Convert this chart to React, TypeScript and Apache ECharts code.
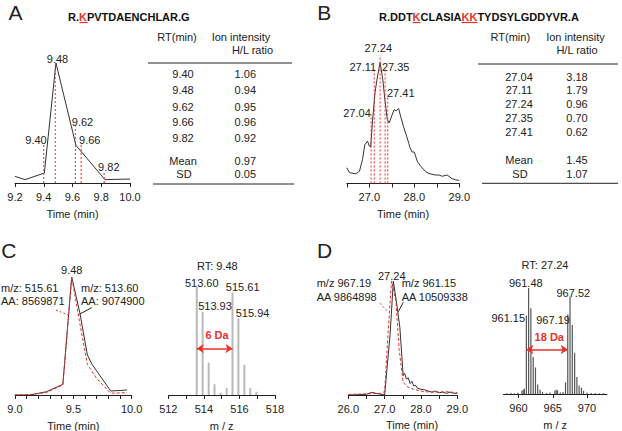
import React, { useEffect, useRef } from 'react';
import * as echarts from 'echarts';

const FONT = '"Liberation Sans", Arial, Helvetica, sans-serif';
const INK = '#222';
const RED = '#e8312b';

// ---------- Panel A ----------
const titleA = 'R.{k|K}PVTDAENCHLAR.G';
const timeA = [9.2, 9.27, 9.404, 9.485, 9.624, 9.826, 10.0];
const intA = [5.5, 2.8, 8.3, 100, 31.4, 2.8, 3.3];
const rtA = [9.40, 9.48, 9.62, 9.66, 9.82];
const rtTopA = [32, 100, 47, 32, 9.5];
const ratioA = [1.06, 0.94, 0.95, 0.96, 0.92];
const meanA = 0.97;
const sdA = 0.05;

// ---------- Panel B ----------
const titleB = 'R.DDT{k|K}CLASIA{k|KK}TYDSYLGDDYVR.A';
const timeB = [26.5, 26.56, 26.70, 26.78, 26.85, 26.90, 26.96, 27.00, 27.03, 27.07, 27.13, 27.18, 27.24, 27.30, 27.35, 27.40, 27.44, 27.50, 27.55, 27.60, 27.65, 27.70, 27.76, 27.83, 27.88, 27.90, 27.95, 28.00, 28.07, 28.17, 28.28, 28.35, 28.47, 28.55, 28.62, 28.73, 28.84, 28.92, 29.00];
const intB = [13, 9, 8, 10, 20, 32, 35, 31, 30, 51, 76, 88, 100, 86, 68, 53, 50, 56, 61, 60, 62, 55, 47, 39, 33, 30, 26, 26, 18, 13, 9, 8, 7, 7, 6, 7, 4, 3, 2.5];
const rtB = [27.04, 27.11, 27.24, 27.35, 27.41];
const rtTopB = [57, 95.5, 106, 95.5, 73];
const ratioB = [3.18, 1.79, 0.96, 0.70, 0.62];
const meanB = 1.45;
const sdB = 1.07;

// ---------- Panel C ----------
const timeCl = [9.0, 9.13, 9.27, 9.41, 9.486, 9.557, 9.62, 9.66, 9.82, 9.96];
const lightC = [0, 0, 2.8, 9, 100, 69, 34, 26, 3.4, 4.2];
const timeCh = [9.0, 9.13, 9.27, 9.41, 9.486, 9.557, 9.62, 9.70, 9.82, 9.96];
const heavyC = [0, 0.5, 2, 8.5, 100, 60, 26, 14, 1.5, 2];
const peakRtC = 9.48;
const mzC = [513.60, 513.93, 514.27, 514.60, 514.94, 515.28, 515.61, 515.94, 516.28, 516.61, 516.95];
const abC = [100, 77, 30, 10, 2, 6.5, 95, 71, 28, 6.5, 3];
const labeledC = [0, 1, 6, 7];
const arrowC = 43;
const daC = '6 Da';

// ---------- Panel D ----------
const timeDl = [26.0, 26.5, 26.64, 26.78, 27.0, 27.15, 27.24, 27.35, 27.42, 27.51, 27.55, 27.6, 27.65, 27.7, 27.75, 27.8, 27.85, 27.9, 28.0, 28.1, 28.2, 28.3, 28.4, 28.5, 28.6, 28.7, 28.8, 28.9, 29.0];
const lightD = [0, 0.6, 2.3, 1.4, 0, 53, 100, 76, 59, 17, 19, 14, 15, 10, 12, 8, 8.5, 6, 5, 4.5, 3.5, 2.5, 3.5, 2, 2.5, 1.5, 2.5, 1.5, 1.5];
const timeDh = [26.0, 26.5, 26.9, 27.0, 27.1, 27.19, 27.31, 27.4, 27.51, 27.6, 27.7, 27.8, 28.06, 28.3, 28.5, 28.7, 29.0];
const heavyD = [0.5, 1, 1.5, 3, 57, 100, 82, 40, 11, 8, 6, 5, 3, 2.5, 2.5, 3, 2];
const peakRtD = 27.24;
const mzD = [958.3, 958.9, 959.4, 959.9, 960.5, 960.7, 960.85, 961.15, 961.48, 961.81, 962.15, 962.48, 962.81, 963.15, 963.5, 964.1, 964.6, 965.3, 965.5, 965.7, 966.1, 966.5, 966.86, 967.19, 967.52, 967.85, 968.19, 968.52, 968.85, 969.19, 969.5, 970.0, 970.6, 971.2, 971.8, 972.4];
const abD = [0.8, 1, 0.8, 1.2, 3, 4, 5, 74, 100, 81, 35, 25, 9, 4, 2, 1, 1.5, 3, 4, 3.5, 1.5, 2, 11, 75, 92, 65, 39, 16, 8, 6, 3, 1.5, 1, 1, 0.8, 0.8];
const labeledD = [8, 24, 7, 23];
const arrowD = 42;
const daD = '18 Da';

const f = (px: number, bold = false) => `${bold ? 'bold ' : ''}${px}px ${FONT}`;

function txt(x: number, y: number, text: string, opts: any = {}) {
  const align = opts.align || 'center';
  return {
    type: 'text',
    x, y,
    silent: true,
    style: {
      text,
      fill: opts.fill || INK,
      font: opts.font || f(11),
      align, textAlign: align,
      verticalAlign: 'middle', textVerticalAlign: 'middle',
      rich: opts.rich,
    },
  };
}
function hline(x1: number, x2: number, y: number, color = INK, w = 1) {
  return { type: 'line', silent: true, shape: { x1, y1: y, x2, y2: y }, style: { stroke: color, lineWidth: w } };
}
function seg(x1: number, y1: number, x2: number, y2: number, color: string, dash?: number[]) {
  return { type: 'line', silent: true, shape: { x1, y1, x2, y2 }, style: { stroke: color, lineWidth: 1, lineDash: dash } };
}

function xAx(gi: number, min: number, max: number, interval: number | undefined, fmt: (v: number) => string, name: string, extra: any = {}) {
  return {
    type: 'value', gridIndex: gi, min, max, interval,
    axisLine: { show: true, onZero: false, lineStyle: { color: INK, width: 1 } },
    axisTick: { show: true, length: 4, inside: false, lineStyle: { color: INK, width: 1 }, ...(extra.tick || {}) },
    axisLabel: { color: INK, fontSize: 11, fontFamily: FONT, margin: 8, formatter: fmt, showMinLabel: true, showMaxLabel: true, ...(extra.label || {}) },
    splitLine: { show: false },
    axisPointer: { show: false },
    name, nameLocation: 'middle', nameGap: 25,
    nameTextStyle: { color: INK, fontSize: 11, fontFamily: FONT },
  };
}
function yAx(gi: number, max: number) {
  return { type: 'value', gridIndex: gi, min: 0, max, show: false };
}
function labels(gi: number, pts: number[][], texts: string[], offsets: number[][], opts: any = {}) {
  return {
    type: 'scatter', xAxisIndex: gi, yAxisIndex: gi, symbolSize: 1, silent: true, z: 6,
    itemStyle: { color: 'rgba(0,0,0,0)' },
    label: {
      show: true, position: 'inside', color: opts.color || INK, fontSize: 11, fontFamily: FONT,
      fontWeight: opts.bold ? 'bold' : 'normal', textBorderWidth: 0, textBorderColor: 'transparent', opacity: 1,
    },
    data: pts.map((p, i) => ({ value: p, label: { formatter: texts[i], offset: offsets[i] } })),
  };
}
// red dotted retention-time markers, drawn as broken line segments on the data scale
function rtSeries(gi: number, rts: number[], tops: number[]) {
  const data: any[] = [];
  rts.forEach((rt, i) => {
    data.push([rt, 0], [rt, tops[i]], [rt, '-']);
  });
  return {
    type: 'line', xAxisIndex: gi, yAxisIndex: gi, symbol: 'none', silent: true, z: 5,
    connectNulls: false, clip: false,
    color: '#ff2a2a',
    lineStyle: { color: '#ff2a2a', type: [2, 2], width: 1, opacity: 1 },
    data,
  };
}
function arrowLine(x1: number, x2: number, y: number) {
  return {
    silent: true, symbol: ['arrow', 'arrow'], symbolSize: 7, label: { show: false },
    lineStyle: { color: RED, type: 'solid', width: 1.5 },
    itemStyle: { color: RED },
    emphasis: { disabled: true },
    data: [[{ coord: [x1, y] }, { coord: [x2, y] }]],
  };
}

const isMult = (v: number, m: number) => Math.abs(v / m - Math.round(v / m)) < 1e-6;

function table(rts: number[], ratios: number[], mean: number, sd: number, L: any) {
  const els: any[] = [];
  els.push(txt(L.c1h, 36.5, 'RT(min)'));
  els.push(txt(L.c2h, 36.5, 'Ion intensity'));
  els.push(txt(L.c3h, 50, 'H/L ratio'));
  els.push(hline(L.top[0], L.top[1], L.topY));
  rts.forEach((rt, i) => {
    els.push(txt(L.c1, L.rows[i], rt.toFixed(2)));
    els.push(txt(L.c2, L.rows[i], ratios[i].toFixed(2)));
  });
  els.push(txt(L.c1, L.meanY, 'Mean'));
  els.push(txt(L.c2, L.meanY, mean.toFixed(2)));
  els.push(txt(L.c1 + 1, L.sdY, 'SD'));
  els.push(txt(L.c2, L.sdY, sd.toFixed(2)));
  els.push(hline(L.bot[0], L.bot[1], L.botY));
  return els;
}

export default function App() {
  const ref = useRef<HTMLDivElement>(null);
  useEffect(() => {
    if (!ref.current) return;
    const chart = echarts.init(ref.current, null, { renderer: 'svg' });
    const titleRich = { k: { fill: RED, color: RED, fontWeight: 'bold', fontSize: 11, fontFamily: FONT } };
    const peakIdxC = lightC.indexOf(100);
    const peakIdxD = lightD.indexOf(100);

    const graphicEls: any[] = [
      txt(15.5, 12.5, 'A', { font: f(21) }),
      txt(324.2, 12.5, 'B', { font: f(21) }),
      txt(8.8, 250.5, 'C', { font: f(21) }),
      txt(324.7, 250.5, 'D', { font: f(21) }),
      txt(68, 16.5, titleA, { align: 'left', font: f(11, true), rich: titleRich, fill: '#111' }),
      hline(79.5, 87.5, 22.5, RED, 1.2),
      txt(379, 16.5, titleB, { align: 'left', font: f(11, true), rich: titleRich, fill: '#111' }),
      hline(412.6, 420.5, 22.5, RED, 1.2),
      hline(461.5, 477.4, 22.5, RED, 1.2),
      ...table(rtA, ratioA, meanA, sdA, {
        c1h: 177, c2h: 241, c3h: 252.5, c1: 183, c2: 245.3,
        top: [148, 292], topY: 63, rows: [74, 90, 106.5, 122.3, 138.3], meanY: 161, sdY: 174, bot: [153, 294], botY: 184,
      }),
      ...table(rtB, ratioB, meanB, sdB, {
        c1h: 510.3, c2h: 575.5, c3h: 577, c1: 519, c2: 577,
        top: [478, 618], topY: 64, rows: [76.7, 90, 104, 118.3, 131.7], meanY: 160, sdY: 174, bot: [482, 618], botY: 183.3,
      }),
      txt(1, 288.3, 'm/z: 515.61', { align: 'left' }),
      txt(1, 301, 'AA: 8569871', { align: 'left' }),
      txt(81, 288.3, 'm/z: 513.60', { align: 'left' }),
      txt(81, 301, 'AA: 9074900', { align: 'left' }),
      seg(56, 310, 68.3, 315, RED, [2, 2]),
      seg(91.7, 307.7, 79.3, 314.3, INK),
      txt(316.7, 283.3, 'm/z 967.19', { align: 'left' }),
      txt(316.7, 296.7, 'AA 9864898', { align: 'left' }),
      txt(401.7, 283.3, 'm/z 961.15', { align: 'left' }),
      txt(401.7, 296.7, 'AA 10509338', { align: 'left' }),
      seg(380, 303.3, 387.7, 311.7, RED, [2, 2]),
      seg(403.3, 302.3, 398.3, 311.7, INK),
      txt(217.3, 265.7, 'RT: ' + peakRtC.toFixed(2)),
      txt(545, 265, 'RT: ' + peakRtD.toFixed(2)),
      txt(412, 425, 'Time (min)'),
    ];

    const option: any = {
      animation: false,
      backgroundColor: '#ffffff',
      textStyle: { fontFamily: FONT },
      grid: [
        { left: 15, top: 63, width: 115, height: 120 },
        { left: 346.8, top: 50.4, width: 112.5, height: 133.1 },
        { left: 15, top: 277, width: 116.7, height: 118 },
        { left: 168.3, top: 287, width: 106.7, height: 108 },
        { left: 348.3, top: 281, width: 109, height: 114 },
        { left: 503.4, top: 288, width: 103.5, height: 106 },
      ].map((g) => ({ ...g, containLabel: false, outerBoundsMode: 'none' })),
      xAxis: [
        xAx(0, 9.2, 10.0, 0.2, (v) => v.toFixed(1), 'Time (min)'),
        xAx(1, 26.5, 29.0, 0.5, (v) => (isMult(v, 1) ? v.toFixed(1) : ''), 'Time (min)'),
        xAx(2, 9.0, 10.0, 0.1, (v) => (isMult(v, 0.5) ? v.toFixed(1) : ''), 'Time (min)'),
        xAx(3, 512, 518, 1, (v) => (isMult(v, 2) ? String(Math.round(v)) : ''), 'm / z'),
        xAx(4, 26.0, 29.0, 0.5, (v) => (isMult(v, 1) ? v.toFixed(1) : ''), ''),
        xAx(5, 957.8, 972.9, undefined, (v) => String(Math.round(v)), 'm / z', {
          label: { customValues: [960, 965, 970] },
          tick: { customValues: [960, 965, 970] },
        }),
      ],
      yAxis: [yAx(0, 100), yAx(1, 110), yAx(2, 100), yAx(3, 100), yAx(4, 100), yAx(5, 100)],
      series: [
        // A
        rtSeries(0, rtA, rtTopA),
        {
          type: 'line', xAxisIndex: 0, yAxisIndex: 0, symbol: 'none', silent: true, z: 3,
          lineStyle: { color: '#333', width: 1 },
          data: timeA.map((t, i) => [t, intA[i]]),
        },
        labels(0, rtA.map((rt, i) => [rt, rtTopA[i]]), rtA.map((r) => r.toFixed(2)),
          [[-7.75, -4.6], [2.25, -4.5], [7.1, -4.9], [8.6, -4.6], [4.7, -4.9]]),
        // B
        rtSeries(1, rtB, rtTopB),
        {
          type: 'line', xAxisIndex: 1, yAxisIndex: 1, symbol: 'none', silent: true, z: 3,
          lineStyle: { color: '#333', width: 1 },
          data: timeB.map((t, i) => [t, intB[i]]),
        },
        labels(1, rtB.map((rt, i) => [rt, rtTopB[i]]), rtB.map((r) => r.toFixed(2)),
          [[-14.1, -1.8], [-11.5, -1.2], [-1.8, -6.9], [10.6, -1.2], [13, -2.5]]),
        // C chromatogram
        {
          type: 'line', xAxisIndex: 2, yAxisIndex: 2, symbol: 'none', silent: true, z: 3,
          lineStyle: { color: '#333', width: 1 },
          data: timeCl.map((t, i) => [t, lightC[i]]),
        },
        {
          type: 'line', xAxisIndex: 2, yAxisIndex: 2, symbol: 'none', silent: true, z: 4,
          lineStyle: { color: RED, width: 1, type: [3, 2] },
          data: timeCh.map((t, i) => [t, heavyC[i]]),
        },
        labels(2, [[timeCl[peakIdxC], lightC[peakIdxC]]], [peakRtC.toFixed(2)], [[0, -7]]),
        // C MS
        {
          type: 'bar', xAxisIndex: 3, yAxisIndex: 3, silent: true, barWidth: 2,
          itemStyle: { color: '#b9b9b9' },
          data: mzC.map((m, i) => [m, abC[i]]),
          markLine: arrowLine(mzC[0], mzC[6], arrowC),
        },
        labels(3, labeledC.map((i) => [mzC[i], abC[i]]), labeledC.map((i) => mzC[i].toFixed(2)),
          [[5, -3.7], [12.4, -6.1], [10.2, -5.1], [14.2, -5]]),
        labels(3, [[(mzC[0] + mzC[6]) / 2, arrowC]], [daC], [[2.4, -13.4]], { color: RED, bold: true }),
        // D chromatogram
        {
          type: 'line', xAxisIndex: 4, yAxisIndex: 4, symbol: 'none', silent: true, z: 3,
          lineStyle: { color: '#333', width: 1 },
          data: timeDl.map((t, i) => [t, lightD[i]]),
        },
        {
          type: 'line', xAxisIndex: 4, yAxisIndex: 4, symbol: 'none', silent: true, z: 4,
          lineStyle: { color: RED, width: 1, type: [3, 2] },
          data: timeDh.map((t, i) => [t, heavyD[i]]),
        },
        labels(4, [[timeDl[peakIdxD], lightD[peakIdxD]]], [peakRtD.toFixed(2)], [[-1.6, -5]]),
        // D MS
        {
          type: 'bar', xAxisIndex: 5, yAxisIndex: 5, silent: true, barWidth: 1.2,
          itemStyle: { color: '#555' },
          data: mzD.map((m, i) => [m, abD[i]]),
          markLine: arrowLine(mzD[7], mzD[23], arrowD),
        },
        labels(5, labeledD.map((i) => [mzD[i], abD[i]]), labeledD.map((i) => mzD[i].toFixed(2)),
          [[-2.8, -4.7], [3.3, -3.2], [-18.1, 2.1], [-14.7, 5.5]]),
        labels(5, [[(mzD[7] + mzD[23]) / 2, arrowD]], [daD], [[2.2, -12.8]], { color: RED, bold: true }),
      ],
      graphic: { elements: graphicEls },
    };
    chart.setOption(option);
    return () => chart.dispose();
  }, []);
  return <div ref={ref} style={{ position: 'fixed', left: 0, top: 0, width: 622, height: 431, background: '#fff' }} />;
}
